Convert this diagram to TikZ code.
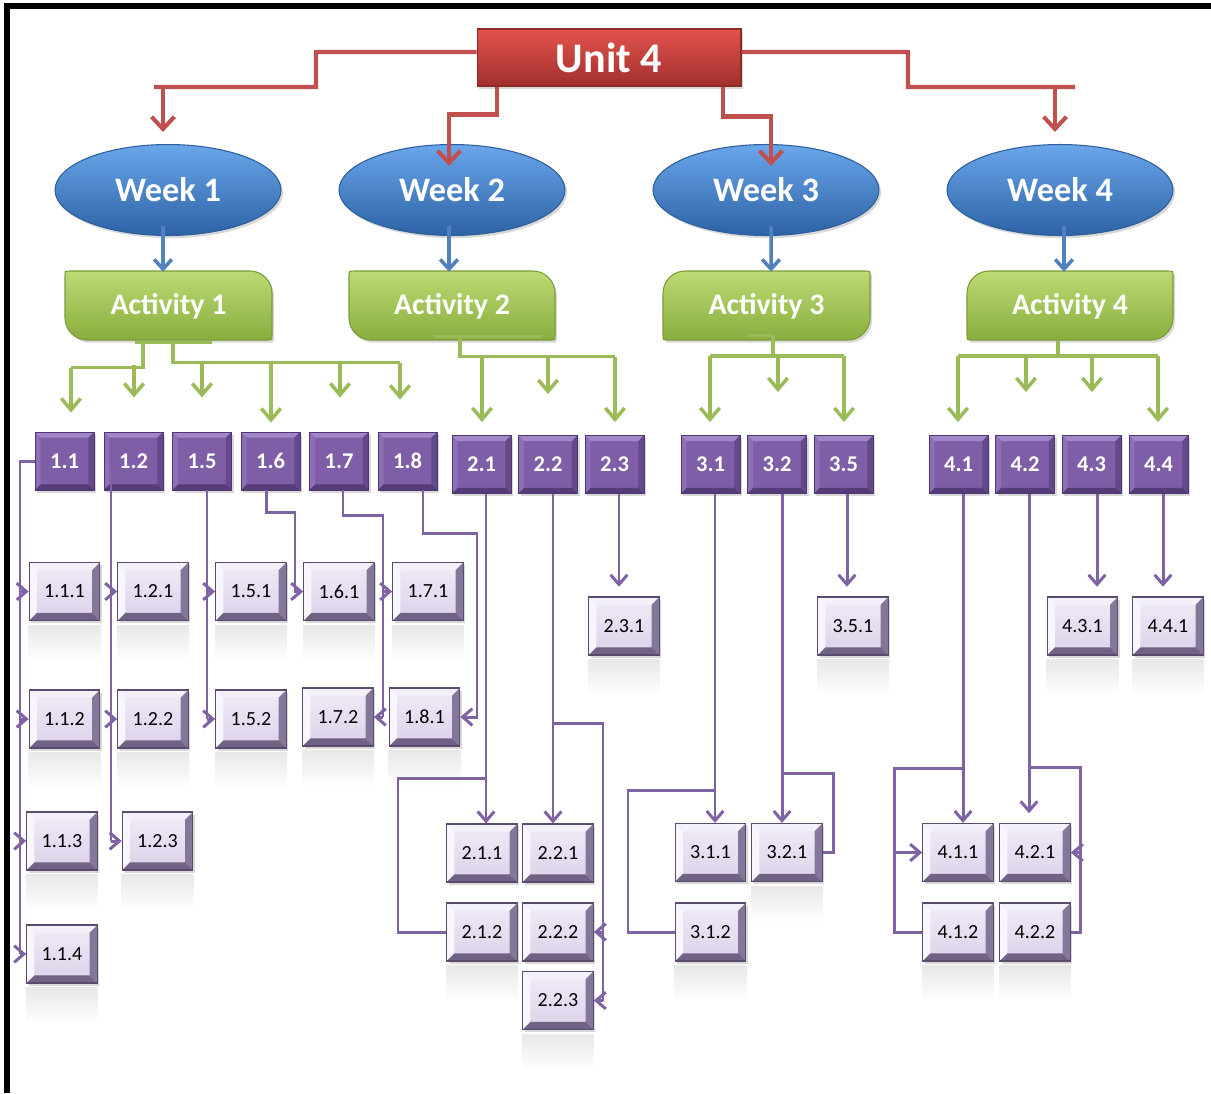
\documentclass[tikz,border=0pt]{standalone}
\usepackage{fontspec}
\setmainfont{Carlito}
\usetikzlibrary{arrows.meta,calc,shapes.geometric,shadows}
\definecolor{redL}{HTML}{C0504D}
\definecolor{redT}{HTML}{E2534E}
\definecolor{redB}{HTML}{A22F2C}
\definecolor{redD}{HTML}{8E2A27}
\definecolor{bluT}{HTML}{6AA6EA}
\definecolor{bluM}{HTML}{3D7BC8}
\definecolor{bluB}{HTML}{2D62A6}
\definecolor{bluD}{HTML}{2F5E9A}
\definecolor{bluL}{HTML}{4F81BD}
\definecolor{grnT}{HTML}{BCDA74}
\definecolor{grnB}{HTML}{88AE3E}
\definecolor{grnD}{HTML}{7A9C38}
\definecolor{grnL}{HTML}{9BBB59}
\definecolor{purL}{HTML}{7F62A3}
\definecolor{purF}{HTML}{7E5EA6}
\definecolor{purD}{HTML}{4E3770}
\definecolor{purBT}{HTML}{A286CA}
\definecolor{purBL}{HTML}{8D6FB7}
\definecolor{purBR}{HTML}{654889}
\definecolor{purBB}{HTML}{553C78}
\definecolor{subT}{HTML}{F1ECF7}
\definecolor{subM}{HTML}{DCD1EA}
\definecolor{subD}{HTML}{5A4A6E}
\definecolor{subBT}{HTML}{F4F0F9}
\definecolor{subBL}{HTML}{F8F5FC}
\definecolor{subBR}{HTML}{85779A}
\definecolor{subBB}{HTML}{6F6284}
\newcommand\mybevel[5]{%
 \fill[#2] (path picture bounding box.north west) -- (path picture bounding box.north east) -- ([xshift=-#1,yshift=-#1]path picture bounding box.north east) -- ([xshift=#1,yshift=-#1]path picture bounding box.north west) -- cycle;
 \fill[#3] (path picture bounding box.north west) -- ([xshift=#1,yshift=-#1]path picture bounding box.north west) -- ([xshift=#1,yshift=#1]path picture bounding box.south west) -- (path picture bounding box.south west) -- cycle;
 \fill[#4] (path picture bounding box.north east) -- (path picture bounding box.south east) -- ([xshift=-#1,yshift=#1]path picture bounding box.south east) -- ([xshift=-#1,yshift=-#1]path picture bounding box.north east) -- cycle;
 \fill[#5] (path picture bounding box.south west) -- (path picture bounding box.south east) -- ([xshift=-#1,yshift=#1]path picture bounding box.south east) -- ([xshift=#1,yshift=#1]path picture bounding box.south west) -- cycle;
}
\tikzset{
 shad/.style={drop shadow={opacity=0.3,shadow xshift=1.2pt,shadow yshift=-1.5pt}},
 unitbox/.style={rectangle,minimum width=5.28cm,minimum height=1.14cm,inner sep=0pt,
   top color=redT,bottom color=redB,draw=redD,line width=0.6pt,shad,
   text=white,font=\bfseries\fontsize{24}{28}\selectfont},
 weekell/.style={ellipse,minimum width=4.52cm,minimum height=1.82cm,inner sep=0pt,
   top color=bluT,middle color=bluM,bottom color=bluB,draw=bluD,line width=0.6pt,shad,
   text=white,font=\bfseries\fontsize{19.5}{23}\selectfont},
 actshape/.style={top color=grnT,bottom color=grnB,draw=grnD,line width=0.6pt,shad},
 acttext/.style={minimum width=4.14cm,minimum height=1.38cm,inner sep=0pt,
   text=white,font=\bfseries\fontsize{17}{20}\selectfont},
 lonebox/.style={rectangle,minimum width=1.18cm,minimum height=1.16cm,inner sep=0pt,
   fill=purF,draw=purD,line width=0.5pt,shad,
   path picture={\mybevel{3.2pt}{purBT}{purBL}{purBR}{purBB}},
   text=white,font=\bfseries\fontsize{12.8}{15}\selectfont},
 subbox/.style={rectangle,minimum width=1.41cm,minimum height=1.16cm,inner sep=0pt,
   top color=subT,bottom color=subM,draw=subD,line width=0.7pt,shad,
   path picture={\mybevel{4.3pt}{subBT}{subBL}{subBR}{subBB}},
   text=black,font=\fontsize{11.4}{13}\selectfont},
 rl/.style={draw=redL,line width=2.3pt},
 ra/.style={rl,-{Straight Barb[length=7pt,width=13pt]}},
 ba/.style={draw=bluL,line width=2pt,-{Straight Barb[length=5.5pt,width=10pt]}},
 gl/.style={draw=grnL,line width=2pt},
 ga/.style={gl,-{Straight Barb[length=6.5pt,width=11pt]}},
 pl/.style={draw=purL,line width=1.7pt},
 pa/.style={pl,-{Straight Barb[length=5.5pt,width=9.5pt]}},
}
\begin{document}
\begin{tikzpicture}[x=0.02cm,y=-0.02cm]
\useasboundingbox (0,0) rectangle (1211,1093);
\fill[white] (0,0) rectangle (1211,1093);
% frame
\draw[line width=3.4pt] (7,1093) -- (7,6) -- (1211,6);

% top
\node[unitbox] (unit) at (609,57.5) {Unit 4};
\node[weekell] (w1) at (168,190) {Week 1};
\node[weekell] (w2) at (452,190) {Week 2};
\node[weekell] (w3) at (766,190) {Week 3};
\node[weekell] (w4) at (1060,190) {Week 4};

% activity shapes
\shade[actshape] (65,276) .. controls (65,271) .. (70,271) -- (250,271) .. controls (262,271) and (272,281) .. (272,293) -- (272,335) .. controls (272,340) .. (267,340) -- (87,340) .. controls (75,340) and (65,330) .. (65,318) -- cycle;
\shade[actshape] (349,276) .. controls (349,271) .. (354,271) -- (533,271) .. controls (545,271) and (555,281) .. (555,293) -- (555,335) .. controls (555,340) .. (550,340) -- (371,340) .. controls (359,340) and (349,330) .. (349,318) -- cycle;
\shade[actshape] (663,293) .. controls (663,281) and (673,271) .. (685,271) -- (865,271) .. controls (870,271) .. (870,276) -- (870,318) .. controls (870,330) and (860,340) .. (848,340) -- (668,340) .. controls (663,340) .. (663,335) -- cycle;
\shade[actshape] (967,293) .. controls (967,281) and (977,271) .. (989,271) -- (1168,271) .. controls (1173,271) .. (1173,276) -- (1173,318) .. controls (1173,330) and (1163,340) .. (1151,340) -- (972,340) .. controls (967,340) .. (967,335) -- cycle;
\node[acttext] (a1) at (168.5,306.5) {Activity 1};
\node[acttext] (a2) at (452,306.5) {Activity 2};
\node[acttext] (a3) at (766.5,306.5) {Activity 3};
\node[acttext] (a4) at (1070,306.5) {Activity 4};

% level 1 boxes
\node[lonebox] (n11) at (64.5,461) {1.1};
\node[lonebox] (n12) at (133.5,461) {1.2};
\node[lonebox] (n15) at (202,461) {1.5};
\node[lonebox] (n16) at (270.5,461) {1.6};
\node[lonebox] (n17) at (339,461) {1.7};
\node[lonebox] (n18) at (407.5,461) {1.8};
\node[lonebox] (n21) at (481.5,464.5) {2.1};
\node[lonebox] (n22) at (548,464.5) {2.2};
\node[lonebox] (n23) at (614.5,464.5) {2.3};
\node[lonebox] (n31) at (710.5,464.5) {3.1};
\node[lonebox] (n32) at (777,464.5) {3.2};
\node[lonebox] (n35) at (843.5,464.5) {3.5};
\node[lonebox] (n41) at (958.5,464.5) {4.1};
\node[lonebox] (n42) at (1025,464.5) {4.2};
\node[lonebox] (n43) at (1091.5,464.5) {4.3};
\node[lonebox] (n44) at (1158.5,464.5) {4.4};

% sub boxes
\node[subbox] (n111) at (64.5,591.5) {1.1.1};
\node[subbox] (n121) at (153,591.5) {1.2.1};
\node[subbox] (n151) at (251,591.5) {1.5.1};
\node[subbox] (n161) at (339,591.5) {1.6.1};
\node[subbox] (n171) at (428,591.5) {1.7.1};
\node[subbox] (n112) at (64.5,719) {1.1.2};
\node[subbox] (n122) at (153,719) {1.2.2};
\node[subbox] (n152) at (251,719) {1.5.2};
\node[subbox] (n172) at (338,717) {1.7.2};
\node[subbox] (n181) at (424.5,717) {1.8.1};
\node[subbox] (n113) at (62,841) {1.1.3};
\node[subbox] (n123) at (157.5,841) {1.2.3};
\node[subbox] (n114) at (62,954) {1.1.4};
\node[subbox] (n231) at (624,626) {2.3.1};
\node[subbox] (n351) at (853,626) {3.5.1};
\node[subbox] (n431) at (1082.5,626) {4.3.1};
\node[subbox] (n441) at (1168,626) {4.4.1};
\node[subbox] (n211) at (482,853) {2.1.1};
\node[subbox] (n221) at (558,853) {2.2.1};
\node[subbox] (n212) at (482,932) {2.1.2};
\node[subbox] (n222) at (558,932) {2.2.2};
\node[subbox] (n223) at (558,1000.5) {2.2.3};
\node[subbox] (n311) at (710.5,852.5) {3.1.1};
\node[subbox] (n321) at (787,852.5) {3.2.1};
\node[subbox] (n312) at (710.5,932) {3.1.2};
\node[subbox] (n411) at (958,852.5) {4.1.1};
\node[subbox] (n421) at (1035,852.5) {4.2.1};
\node[subbox] (n412) at (958,932) {4.1.2};
\node[subbox] (n422) at (1035,932) {4.2.2};

% reflections
\foreach \n in {n111,n121,n151,n161,n171,n112,n122,n152,n172,n181,n113,n123,n114,n231,n351,n431,n441,n212,n223,n321,n312,n412,n422}
  \shade[top color=black!9,bottom color=white] ($(\n.south west)+(0,4)$) rectangle ($(\n.south east)+(0,40)$);

% red connectors
\coordinate (r1) at (316,87);
\coordinate (r4) at (908,87);
\draw[rl] ($(unit.west)+(0,-5.5)$) -| (r1) -- ($(w1.north)+(-14,-57)$);
\draw[ra] ($(w1.north)+(-5,-57)$) -- ($(w1.north)+(-5,-12)$);
\draw[ra] ($(unit.south)+(-112,0)$) |- ($(w2.north)+(-3,-29.5)$) -- ($(w2.north)+(-3,22)$);
\draw[ra] ($(unit.south)+(114,0)$) |- ($(w3.north)+(5,-27.5)$) -- ($(w3.north)+(5,22)$);
\draw[rl] ($(unit.east)+(0,-5.5)$) -| (r4) -- ($(w4.north)+(15,-57)$);
\draw[ra] ($(w4.north)+(-5,-57)$) -- ($(w4.north)+(-5,-12)$);

% blue connectors
\draw[ba] ($(w1.south)+(-5,-10)$) -- ($(a1.north)+(-5.5,0)$);
\draw[ba] ($(w2.south)+(-3,-10)$) -- ($(a2.north)+(-3,0)$);
\draw[ba] ($(w3.south)+(5,-10)$) -- ($(a3.north)+(4.5,0)$);
\draw[ba] ($(w4.south)+(4,-10)$) -- ($(a4.north)+(-6,0)$);

% green connectors, activity 1
\draw[gl] ($(a1.south)+(-33.5,1)$) -- ($(a1.south)+(43.5,1)$);
\draw[gl] ($(a1.south)+(-25.5,0)$) |- ($(n11.north)+(6.5,-64)$);
\draw[ga] ($(n11.north)+(6.5,-64)$) -- ($(n11.north)+(6.5,-19)$);
\draw[ga] ($(n12.north)+(0.5,-67)$) -- ($(n12.north)+(0.5,-34)$);
\draw[gl] ($(a1.south)+(4.5,0)$) |- ($(n18.north)+(-7.5,-69)$);
\draw[ga] ($(n15.north)+(0,-69)$) -- ($(n15.north)+(0,-34)$);
\draw[ga] ($(n16.north)+(0.5,-69)$) -- ($(n16.north)+(0.5,-9)$);
\draw[ga] ($(n17.north)+(1,-69)$) -- ($(n17.north)+(1,-34)$);
\draw[ga] ($(n18.north)+(-7.5,-69)$) -- ($(n18.north)+(-7.5,-32)$);
% activity 2
\draw[gl] ($(a2.south)+(-18,-5)$) -- ($(a2.south)+(90,-5)$);
\draw[gl] ($(a2.south)+(8,-5)$) |- ($(n23.north)+(0.5,-78.5)$);
\draw[ga] ($(n21.north)+(0.5,-78.5)$) -- ($(n21.north)+(0.5,-13)$);
\draw[ga] ($(n22.north)+(0,-78.5)$) -- ($(n22.north)+(0,-41)$);
\draw[ga] ($(n23.north)+(0.5,-78.5)$) -- ($(n23.north)+(0.5,-13)$);
% activity 3
\draw[gl] ($(a3.south)+(-18.5,-6)$) -- ($(a3.south)+(6.5,-6)$);
\draw[gl] ($(a3.south)+(6.5,-6)$) -- ($(a3.south)+(6.5,17)$);
\draw[gl] ($(n31.north)+(-0.5,-79)$) -- ($(n35.north)+(0.5,-79)$);
\draw[ga] ($(n31.north)+(-0.5,-79)$) -- ($(n31.north)+(-0.5,-13)$);
\draw[ga] ($(n32.north)+(1,-79)$) -- ($(n32.north)+(1,-43)$);
\draw[ga] ($(n35.north)+(0.5,-79)$) -- ($(n35.north)+(0.5,-13)$);
% activity 4
\draw[gl] ($(a4.south)+(-12,0)$) -- ($(a4.south)+(-12,17)$);
\draw[gl] ($(n41.north)+(-0.5,-79)$) -- ($(n44.north)+(-0.5,-79)$);
\draw[ga] ($(n41.north)+(-0.5,-79)$) -- ($(n41.north)+(-0.5,-13)$);
\draw[ga] ($(n42.north)+(1,-79)$) -- ($(n42.north)+(1,-43)$);
\draw[ga] ($(n43.north)+(0.5,-79)$) -- ($(n43.north)+(0.5,-43)$);
\draw[ga] ($(n44.north)+(-0.5,-79)$) -- ($(n44.north)+(-0.5,-13)$);

% purple connectors
% 1.1
\coordinate (v11) at (20,461);
\draw[pl] (n11.west) -- (v11) -- (v11 |- n114.west);
\foreach \t in {n111,n112,n113,n114} \draw[pa] (v11 |- \t.west) -- (\t.west);
% 1.2
\coordinate (v12) at ($(n12.south)+(-22.5,-20)$);
\draw[pl] (v12) -- (v12 |- n123.west);
\foreach \t in {n121,n122,n123} \draw[pa] (v12 |- \t.west) -- (\t.west);
% 1.5
\coordinate (v15) at ($(n15.south)+(5,0)$);
\draw[pl] (v15) -- (v15 |- n152.west);
\foreach \t in {n151,n152} \draw[pa] (v15 |- \t.west) -- (\t.west);
% 1.6
\coordinate (k16) at (295,512);
\draw[pa] ($(n16.south)+(-4,0)$) |- (k16) |- (n161.west);
% 1.7
\coordinate (k17) at (383,515);
\draw[pl] ($(n17.south)+(4,0)$) |- (k17) -- (k17 |- n172.east);
\draw[pa] (k17 |- n171.west) -- (n171.west);
\draw[pa] (k17 |- n172.east) -- (n172.east);
% 1.8
\coordinate (k18) at (477,533);
\draw[pa] ($(n18.south)+(15.5,0)$) |- (k18) |- (n181.east);
% 2.1
\coordinate (v21) at ($(n21.south)+(4.5,0)$);
\coordinate (k21) at (398,778);
\draw[pa] (v21) -- (v21 |- n211.north);
\draw[pl] (v21 |- k21) -- (k21) |- (n212.west);
% 2.2
\coordinate (v22) at ($(n22.south)+(5,0)$);
\coordinate (k22) at (603,723);
\draw[pa] (v22) -- (v22 |- n221.north);
\draw[pl] (v22 |- k22) -- (k22) -- (k22 |- n223.east);
\draw[pa] (k22 |- n222.east) -- (n222.east);
\draw[pa] (k22 |- n223.east) -- (n223.east);
% 2.3
\coordinate (v23) at ($(n23.south)+(4.5,0)$);
\draw[pa,shorten >=5.5pt] (v23) -- (v23 |- n231.north);
% 3.1
\coordinate (v31) at ($(n31.south)+(4.5,0)$);
\coordinate (k31) at (628,790);
\draw[pa] (v31) -- (v31 |- n311.north);
\draw[pl] (v31 |- k31) -- (k31) |- (n312.west);
% 3.2
\coordinate (v32) at ($(n32.south)+(5,0)$);
\coordinate (k32) at (833,773);
\draw[pa] (v32) -- (v32 |- n321.north);
\draw[pl] (v32 |- k32) -- (k32) |- (n321.east);
% 3.5
\coordinate (v35) at ($(n35.south)+(3.5,0)$);
\draw[pa,shorten >=5.5pt] (v35) -- (v35 |- n351.north);
% 4.1
\coordinate (v41) at ($(n41.south)+(4.5,0)$);
\coordinate (k41) at (894,768);
\draw[pa] (v41) -- (v41 |- n411.north);
\draw[pl] (v41 |- k41) -- (k41) |- (n412.west);
\draw[pa] (k41 |- n411.west) -- (n411.west);
% 4.2
\coordinate (v42) at ($(n42.south)+(4,0)$);
\coordinate (k42) at (1080,767);
\draw[pa,shorten >=5.5pt] (v42) -- (v42 |- n421.north);
\draw[pl] (v42 |- k42) -- (k42) |- (n422.east);
\draw[pa] (k42 |- n421.east) -- (n421.east);
% 4.3 / 4.4
\coordinate (v43) at ($(n43.south)+(5.5,0)$);
\draw[pa,shorten >=5.5pt] (v43) -- (v43 |- n431.north);
\coordinate (v44) at ($(n44.south)+(4.5,0)$);
\draw[pa,shorten >=5.5pt] (v44) -- (v44 |- n441.north);
\end{tikzpicture}
\end{document}
